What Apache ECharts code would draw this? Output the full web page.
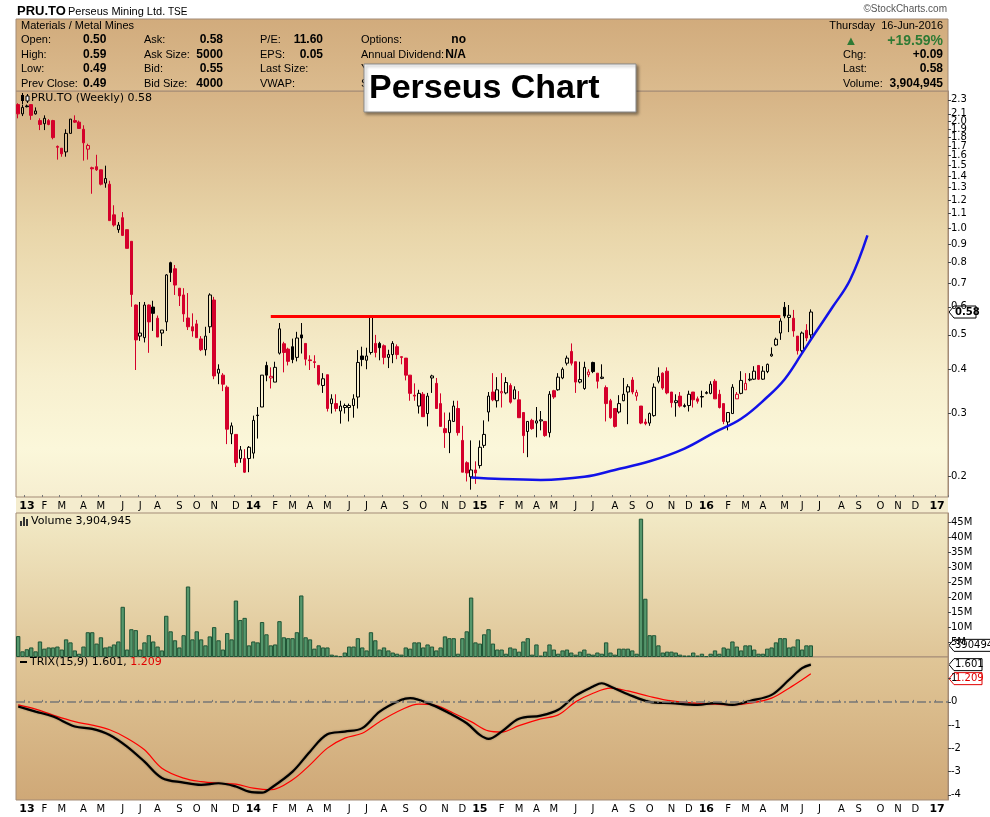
<!DOCTYPE html>
<html><head><meta charset="utf-8">
<script src="https://cdn.jsdelivr.net/npm/echarts@6/dist/echarts.min.js"></script>
<style>html,body{margin:0;padding:0;background:#fff;}#c{width:990px;height:817px;}</style>
</head><body><div id="c"></div>
<script>
// ---------------- DATA ----------------
const firstWeek = '2012-12-21';
const weekCount = 214;
const monthLetters = ['J','F','M','A','M','J','J','A','S','O','N','D'];
// weekly candles: [open, high, low, close]
const candles = [
[2.23,2.25,2.04,2.10],[2.10,2.23,2.07,2.19],[2.21,2.23,2.19,2.20],[2.23,2.23,2.02,2.08],[2.10,2.19,2.09,2.14],
[2.01,2.04,1.89,1.96],[1.97,2.08,1.89,2.04],[2.01,2.03,1.95,1.96],[2.01,2.02,1.78,1.80],[1.70,1.71,1.56,1.69],
[1.68,1.68,1.59,1.62],[1.64,1.90,1.59,1.85],[1.85,2.03,1.85,2.03],[2.01,2.08,1.98,1.99],[1.99,2.01,1.91,1.91],
[1.90,1.95,1.55,1.74],[1.67,1.73,1.56,1.71],[1.48,1.49,1.25,1.47],[1.49,1.61,1.45,1.46],[1.46,1.46,1.32,1.33],
[1.34,1.50,1.30,1.38],[1.33,1.36,1.05,1.05],[1.09,1.16,1.01,1.02],[0.99,1.04,0.97,1.02],[1.07,1.11,0.95,0.954],
[0.99,0.99,0.877,0.877],[0.918,0.918,0.60,0.65],[0.607,0.609,0.398,0.484],[0.496,0.619,0.481,0.506],[0.491,0.619,0.476,0.607],
[0.607,0.609,0.445,0.544],[0.599,0.624,0.513,0.575],[0.557,0.567,0.493,0.493],[0.506,0.516,0.465,0.516],[0.544,0.742,0.513,0.738],
[0.799,0.804,0.705,0.75],[0.768,0.787,0.648,0.691],[0.677,0.677,0.603,0.644],[0.648,0.677,0.544,0.573],[0.558,0.656,0.516,0.527],
[0.527,0.575,0.494,0.513],[0.537,0.551,0.491,0.491],[0.487,0.496,0.45,0.454],[0.454,0.527,0.437,0.496],[0.527,0.655,0.506,0.648],
[0.627,0.64,0.375,0.383],[0.39,0.413,0.363,0.40],[0.385,0.39,0.347,0.363],[0.356,0.36,0.246,0.271],[0.263,0.283,0.246,0.277],
[0.262,0.262,0.212,0.218],[0.224,0.243,0.218,0.237],[0.224,0.238,0.204,0.205],[0.224,0.243,0.205,0.241],[0.232,0.296,0.224,0.287],
[0.297,0.313,0.255,0.296],[0.313,0.385,0.313,0.385],[0.41,0.42,0.37,0.385],[0.378,0.405,0.353,0.382],[0.368,0.42,0.368,0.405],
[0.444,0.54,0.44,0.52],[0.472,0.478,0.392,0.446],[0.456,0.46,0.41,0.421],[0.463,0.488,0.416,0.426],[0.432,0.51,0.421,0.49],
[0.50,0.54,0.443,0.49],[0.473,0.473,0.41,0.427],[0.425,0.438,0.398,0.423],[0.42,0.438,0.403,0.418],[0.41,0.41,0.36,0.363],
[0.36,0.39,0.343,0.376],[0.386,0.386,0.304,0.31],[0.32,0.34,0.30,0.33],[0.32,0.34,0.304,0.31],[0.305,0.326,0.281,0.315],
[0.312,0.32,0.30,0.316],[0.312,0.32,0.285,0.316],[0.316,0.34,0.292,0.33],[0.334,0.453,0.31,0.418],[0.436,0.463,0.408,0.426],
[0.424,0.46,0.40,0.436],[0.446,0.562,0.44,0.56],[0.473,0.50,0.432,0.446],[0.473,0.478,0.424,0.46],[0.466,0.47,0.413,0.432],
[0.432,0.454,0.403,0.44],[0.44,0.48,0.416,0.473],[0.463,0.47,0.427,0.44],[0.434,0.434,0.413,0.432],[0.43,0.43,0.372,0.385],
[0.385,0.385,0.326,0.342],[0.338,0.365,0.326,0.336],[0.315,0.35,0.30,0.342],[0.34,0.345,0.294,0.294],[0.30,0.343,0.276,0.336],
[0.378,0.386,0.343,0.383],[0.365,0.378,0.31,0.31],[0.32,0.342,0.276,0.276],[0.272,0.302,0.24,0.265],[0.265,0.302,0.232,0.287],
[0.285,0.326,0.285,0.315],[0.31,0.326,0.26,0.265],[0.252,0.277,0.205,0.205],[0.218,0.22,0.193,0.204],[0.199,0.252,0.183,0.208],
[0.208,0.22,0.19,0.204],[0.214,0.252,0.21,0.241],[0.244,0.287,0.24,0.262],[0.303,0.345,0.285,0.336],[0.345,0.39,0.325,0.328],
[0.326,0.38,0.312,0.35],[0.343,0.39,0.312,0.346],[0.343,0.38,0.34,0.367],[0.36,0.365,0.32,0.323],[0.33,0.358,0.33,0.35],
[0.328,0.347,0.292,0.292],[0.302,0.302,0.232,0.26],[0.267,0.285,0.226,0.285],[0.287,0.29,0.27,0.272],[0.282,0.313,0.257,0.286],
[0.286,0.305,0.269,0.288],[0.285,0.285,0.258,0.26],[0.265,0.347,0.257,0.34],[0.348,0.35,0.33,0.334],[0.35,0.39,0.348,0.38],
[0.378,0.405,0.375,0.40],[0.416,0.437,0.41,0.43],[0.449,0.473,0.41,0.416],[0.42,0.42,0.343,0.368],[0.368,0.42,0.365,0.374],
[0.353,0.42,0.35,0.405],[0.386,0.40,0.38,0.393],[0.418,0.42,0.39,0.394],[0.39,0.39,0.353,0.37],[0.377,0.413,0.375,0.38],
[0.355,0.36,0.285,0.32],[0.326,0.33,0.29,0.292],[0.31,0.31,0.274,0.276],[0.303,0.338,0.30,0.32],[0.326,0.378,0.325,0.34],
[0.345,0.363,0.28,0.357],[0.373,0.38,0.34,0.345],[0.336,0.35,0.326,0.344],[0.315,0.315,0.28,0.282],[0.284,0.29,0.278,0.281],
[0.282,0.302,0.277,0.30],[0.296,0.365,0.294,0.356],[0.37,0.405,0.365,0.382],[0.39,0.392,0.35,0.354],[0.395,0.405,0.34,0.343],
[0.345,0.345,0.312,0.322],[0.322,0.34,0.294,0.326],[0.336,0.345,0.312,0.315],[0.314,0.32,0.312,0.316],[0.316,0.348,0.304,0.34],
[0.345,0.345,0.312,0.328],[0.33,0.335,0.32,0.325],[0.335,0.348,0.312,0.334],[0.342,0.347,0.34,0.344],[0.342,0.37,0.34,0.363],
[0.37,0.375,0.33,0.33],[0.34,0.35,0.31,0.312],[0.32,0.32,0.28,0.285],[0.284,0.302,0.269,0.302],[0.30,0.363,0.30,0.356],
[0.33,0.345,0.33,0.34],[0.342,0.395,0.34,0.372],[0.35,0.39,0.35,0.365],[0.373,0.39,0.37,0.375],[0.375,0.408,0.373,0.395],
[0.41,0.41,0.373,0.375],[0.375,0.408,0.373,0.395],[0.394,0.415,0.39,0.413],[0.436,0.461,0.434,0.441],[0.468,0.491,0.465,0.486],
[0.506,0.557,0.484,0.547],[0.598,0.619,0.557,0.565],[0.56,0.607,0.509,0.568],[0.557,0.588,0.494,0.513],[0.496,0.496,0.44,0.451],
[0.451,0.511,0.445,0.506],[0.515,0.536,0.48,0.49],[0.50,0.59,0.49,0.58]
];
// weekly volume, millions of shares
const volumeM = [
7.0,1.9,2.6,3.2,1.9,5.2,2.8,3.2,3.2,3.5, 2.5,5.9,4.9,2.2,1.1,3.5,8.3,8.3,4.5,6.6,
3.2,3.5,4.2,5.2,16.8,2.5,9.3,9.0,2.5,4.9, 7.3,5.2,3.5,2.2,13.8,8.6,5.6,3.2,7.3,23.6,
5.9,8.6,5.9,3.9,6.9,10.0,5.6,2.5,8.0,5.9, 18.9,12.4,13.1,3.9,5.2,4.9,11.7,7.6,3.9,4.2,
12.0,6.6,6.3,6.3,8.3,20.6,6.6,5.9,2.8,3.9, 3.2,3.2,0.8,0.5,0.3,1.5,3.5,3.5,6.3,
3.2,2.2,8.3,5.6,2.5,3.2,2.2,1.5,1.1,0.8, 3.2,2.8,4.9,4.9,3.2,4.2,3.5,2.2,3.2,6.9,
6.3,6.3,1.1,6.3,8.6,19.9,4.9,4.5,7.6,9.3, 4.5,2.5,2.5,1.1,3.2,2.8,1.8,5.2,6.3,0.8,
4.2,0.5,1.8,4.2,2.5,1.1,2.2,2.5,1.5,0.8, 1.8,2.5,1.1,0.8,1.5,1.1,4.9,1.5,0.8,2.8,
2.8,2.8,2.2,1.1,46.3,19.5,7.3,7.3,3.9,1.5, 1.8,1.8,1.5,0.8,0.5,0.5,1.5,0.5,1.1,0.3,
1.1,2.2,1.1,3.2,2.8,5.2,3.5,2.2,3.9,3.9, 2.5,1.1,1.1,2.8,3.2,4.9,6.3,6.3,3.2,3.5,
5.9,2.5,3.9,3.904945
];
// TRIX(15,9) read at sampled weeks: [weekIndex, value]
const trixLine = [[0,-0.2],[4,-0.42],[8,-0.63],[13,-1.06],[17,-1.16],[21,-1.42],[25,-1.92],[29,-2.57],[33,-3.27],[38,-3.47],[42,-3.57],[46,-3.5],[50,-3.64],[53,-3.86],[56,-3.9],[58,-3.71],[63,-3.0],[67,-2.14],[71,-1.39],[75,-1.28],[79,-1.13],[83,-0.42],[88,0.09],[90,0.16],[95,-0.13],[99,-0.49],[103,-0.92],[106,-1.42],[108,-1.59],[111,-1.28],[115,-0.73],[120,-0.59],[124,-0.34],[128,0.27],[132,0.66],[134,0.8],[136,0.66],[140,0.33],[145,0],[150,-0.06],[156,-0.13],[160,-0.05],[164,-0.13],[168,0.04],[173,0.3],[177,0.95],[180,1.45],[182,1.601]];
const trixSignal = [[0,-0.13],[4,-0.31],[8,-0.57],[13,-0.85],[17,-1.0],[21,-1.2],[25,-1.56],[29,-2.06],[33,-2.85],[38,-3.28],[42,-3.43],[46,-3.5],[50,-3.54],[54,-3.71],[58,-3.78],[63,-3.35],[67,-2.71],[71,-1.99],[75,-1.56],[79,-1.35],[83,-0.85],[88,-0.34],[92,-0.1],[96,-0.16],[100,-0.49],[104,-0.85],[108,-1.25],[111,-1.3],[115,-1.02],[120,-0.73],[124,-0.56],[128,0],[132,0.37],[136,0.59],[140,0.47],[145,0.23],[150,0.04],[156,-0.06],[160,-0.1],[164,-0.13],[168,-0.06],[173,0.16],[177,0.59],[180,0.95],[182,1.209]];
// annotations [weekIndex, price]
const resistance = [[57.8,0.563],[175.4,0.563]];
const blueCurve = [[104.1,0.198],[110.6,0.196],[119.8,0.195],[129.7,0.199],[137.4,0.208],[145.1,0.22],[152.7,0.239],[160.4,0.266],[165.7,0.29],[171.9,0.334],[175.7,0.375],[180.3,0.444],[183.3,0.506],[187.2,0.599],[191,0.714],[195.1,0.954]];
// axis ticks
const priceTicks = [0.2,0.3,0.4,0.5,0.6,0.7,0.8,0.9,1.0,1.1,1.2,1.3,1.4,1.5,1.6,1.7,1.8,1.9,2.0,2.1,2.2,2.3];
const volumeTicks = [5,10,15,20,25,30,35,40,45];
const trixTicks = [-4,-3,-2,-1,0,1];
const lastPrice = 0.58, lastVolumeM = 3.904945, lastTrix = 1.601, lastSignal = 1.209;

// ---------------- BUILD ----------------
const weeks = [];
{ const t0 = Date.parse(firstWeek + 'T00:00:00Z');
  for (let i = 0; i < weekCount; i++) weeks.push(new Date(t0 + i * 7 * 86400000).toISOString().slice(0, 10)); }
const isMonthStart = (idx, val) => +String(val).slice(8, 10) <= 7;
const monthLabel = (val) => { const m = +val.slice(5, 7); return m === 1 ? '{y|' + val.slice(2, 4) + '}' : monthLetters[m - 1]; };

const RED = '#d4002b', BLK = '#000000', CLEAR = 'rgba(0,0,0,0)';
const candleData = candles.map((c, i) => {
  const [o, h, l, cl] = c;
  const prev = i > 0 ? candles[i - 1][3] : Infinity;
  const col = cl < prev ? RED : BLK;
  const fill = cl > o ? CLEAR : col;
  return { value: [o, cl, l, h], itemStyle: { color: fill, color0: fill, borderColor: col, borderColor0: col, borderColorDoji: col, borderWidth: 1 } };
});

const AXF = 'DejaVu Sans';
const lg = (stops) => ({ type: 'linear', x: 0, y: 0, x2: 0, y2: 1, colorStops: stops.map((c) => ({ offset: c[0], color: c[1] })) });
const axisLineCol = '#a38b76';

function xAx(grid, showLabel) {
  return {
    type: 'category', gridIndex: grid, data: weeks, boundaryGap: true,
    axisLine: { show: false },
    axisTick: { show: showLabel, interval: isMonthStart, length: 2, inside: true, lineStyle: { color: '#777' } },
    axisLabel: { show: showLabel, interval: isMonthStart, formatter: monthLabel, fontFamily: AXF, fontSize: 10, color: '#000', margin: 4,
      rich: { y: { fontFamily: AXF, fontSize: 11, fontWeight: 'bold', color: '#000' } } },
    splitLine: { show: false }
  };
}
function yAx(grid, extra) {
  return Object.assign({
    gridIndex: grid, position: 'right',
    axisLine: { show: true, lineStyle: { color: axisLineCol } },
    splitLine: { show: false }
  }, extra);
}
const axLabel = (vals, fmt) => ({ customValues: vals, formatter: fmt, fontFamily: AXF, fontSize: 10, color: '#000', margin: 3,
  showMinLabel: true, showMaxLabel: true, hideOverlap: false });
const axTick = (vals) => ({ show: true, customValues: vals, length: 3, lineStyle: { color: '#444' } });

const option = {
  animation: false,
  backgroundColor: '#ffffff',
  grid: [
    { left: 16, width: 932, top: 91, height: 406, show: true, borderColor: axisLineCol, borderWidth: 1,
      backgroundColor: lg([[0, '#d6b385'], [0.35, '#e9d6aa'], [0.7, '#f7efce'], [0.88, '#fbf7da'], [1, '#f6eed0']]) },
    { left: 16, width: 932, top: 513, height: 144, show: true, borderColor: axisLineCol, borderWidth: 1,
      backgroundColor: lg([[0, '#f2eac6'], [1, '#dfc597']]) },
    { left: 16, width: 932, top: 657, height: 143, show: true, borderColor: axisLineCol, borderWidth: 1,
      backgroundColor: lg([[0, '#e0c697'], [1, '#cfa877']]) }
  ],
  xAxis: [xAx(0, true), xAx(1, false), xAx(2, true)],
  yAxis: [
    yAx(0, { type: 'log', logBase: 10, min: 0.1745, max: 2.436, axisLabel: axLabel(priceTicks, v => (+v).toFixed(1)), axisTick: axTick(priceTicks) }),
    yAx(1, { type: 'value', min: 0, max: 48.2, axisLabel: axLabel(volumeTicks, v => v + 'M'), axisTick: axTick(volumeTicks) }),
    yAx(2, { type: 'value', min: -4.22, max: 1.93, axisLabel: axLabel(trixTicks, v => String(v)), axisTick: axTick(trixTicks) })
  ],
  series: [
    { type: 'candlestick', name: 'PRU.TO', xAxisIndex: 0, yAxisIndex: 0, data: candleData, barWidth: 3, z: 3 },
    { type: 'line', name: 'Resistance', xAxisIndex: 0, yAxisIndex: 0, data: resistance, symbol: 'none',
      lineStyle: { color: '#ff0000', width: 3 }, z: 4 },
    { type: 'line', name: 'Curve', xAxisIndex: 0, yAxisIndex: 0, data: blueCurve, symbol: 'none', smooth: 0.4,
      lineStyle: { color: '#1212e8', width: 2.5 }, z: 4 },
    { type: 'bar', name: 'Volume', xAxisIndex: 1, yAxisIndex: 1, data: volumeM, barCategoryGap: '0%',
      itemStyle: { color: '#55976c', borderColor: '#1f5536', borderWidth: 1 } },
    { type: 'line', name: 'Signal', xAxisIndex: 2, yAxisIndex: 2, data: trixSignal, symbol: 'none', smooth: 0.35,
      lineStyle: { color: '#ff0000', width: 1.2 }, z: 3,
      markLine: { silent: true, symbol: 'none', label: { show: false }, data: [{ yAxis: 0 }],
        lineStyle: { color: '#777', width: 1.5, type: [9, 3, 2, 3] } } },
    { type: 'line', name: 'TRIX', xAxisIndex: 2, yAxisIndex: 2, data: trixLine, symbol: 'none', smooth: 0.35,
      lineStyle: { color: '#000', width: 2.2, shadowColor: 'rgba(0,0,0,0.35)', shadowBlur: 2 }, z: 4 }
  ]
};

const chart = echarts.init(document.getElementById('c'), null, { renderer: 'canvas', width: 990, height: 817 });
chart.setOption(option);

// ---------------- TEXT / DECORATION ----------------
const HF = '"Liberation Sans", Arial, sans-serif';
function T(x, y, text, font, fill, align, z) {
  return { type: 'text', x, y, z: z || 10, silent: true,
    style: { text, font, fill: fill || '#000', textAlign: align || 'left', textVerticalAlign: 'middle', align: align || 'left', verticalAlign: 'middle' } };
}
const reg = '11px ' + HF, bold = 'bold 12px ' + HF;
const G = [];
G.push({ type: 'rect', z: -1, silent: true, shape: { x: 16, y: 497, width: 932, height: 16 }, style: { fill: '#f4ecce' } });
G.push(T(17, 11, 'PRU.TO', 'bold 13px ' + HF));
G.push(T(68, 12, 'Perseus Mining Ltd.', '11px ' + HF));
G.push(T(168, 12, 'TSE', '10px ' + HF));
G.push(T(947, 9, '©StockCharts.com', '10px ' + HF, '#555', 'right'));
G.push({ type: 'rect', z: 1, silent: true, shape: { x: 16, y: 19, width: 932, height: 72 },
  style: { fill: lg([[0, '#d1ab7c'], [1, '#dbbb8e']]), stroke: '#a38b76', lineWidth: 1 } });
const rows = [40, 55, 69, 84];
G.push(T(21, 26, 'Materials / Metal Mines', reg));
[['Open:', '0.50'], ['High:', '0.59'], ['Low:', '0.49'], ['Prev Close:', '0.49']].forEach((r, i) => { G.push(T(21, rows[i], r[0], reg)); G.push(T(83, rows[i], r[1], bold)); });
[['Ask:', '0.58'], ['Ask Size:', '5000'], ['Bid:', '0.55'], ['Bid Size:', '4000']].forEach((r, i) => { G.push(T(144, rows[i], r[0], reg)); G.push(T(223, rows[i], r[1], bold, '#000', 'right')); });
[['P/E:', '11.60'], ['EPS:', '0.05'], ['Last Size:', ''], ['VWAP:', '']].forEach((r, i) => { G.push(T(260, rows[i], r[0], reg)); G.push(T(323, rows[i], r[1], bold, '#000', 'right')); });
[['Options:', 'no'], ['Annual Dividend:', 'N/A'], ['Yield:', ''], ['SCTR:', '']].forEach((r, i) => { G.push(T(361, rows[i], r[0], reg)); G.push(T(466, rows[i], r[1], bold, '#000', 'right')); });
G.push(T(943, 26, 'Thursday  16-Jun-2016', reg, '#000', 'right'));
G.push(T(851, 41, '▲', '13px ' + HF, '#2e7a34', 'center'));
G.push(T(943, 41, '+19.59%', 'bold 14px ' + HF, '#2e7a34', 'right'));
[['Chg:', '+0.09'], ['Last:', '0.58'], ['Volume:', '3,904,945']].forEach((r, i) => { G.push(T(843, rows[i + 1], r[0], reg)); G.push(T(943, rows[i + 1], r[1], bold, '#000', 'right')); });
// title box
G.push({ type: 'rect', z: 20, silent: true, shape: { x: 364, y: 64, width: 272, height: 48 },
  style: { fill: '#ffffff', stroke: '#8a8a8a', lineWidth: 1, shadowBlur: 3, shadowOffsetX: 2, shadowOffsetY: 2, shadowColor: 'rgba(0,0,0,0.4)' } });
G.push(T(369, 89, 'Perseus Chart', 'bold 34px ' + HF, '#000', 'left', 21));
// panel legends
G.push({ type: 'group', z: 10, silent: true, children: [
  { type: 'line', shape: { x1: 22.5, y1: 93, x2: 22.5, y2: 104 }, style: { stroke: '#000', lineWidth: 1 } },
  { type: 'rect', shape: { x: 21, y: 95, width: 3, height: 6 }, style: { fill: '#000' } },
  { type: 'line', shape: { x1: 27.5, y1: 94, x2: 27.5, y2: 103 }, style: { stroke: '#000', lineWidth: 1 } },
  { type: 'rect', shape: { x: 26, y: 96, width: 3, height: 5 }, style: { fill: '#fff', stroke: '#000', lineWidth: 1 } }
] });
G.push(T(31, 98, 'PRU.TO (Weekly) 0.58', '11px "' + AXF + '"'));
G.push({ type: 'group', z: 10, silent: true, children: [
  { type: 'rect', shape: { x: 20, y: 521, width: 2, height: 5 }, style: { fill: '#333' } },
  { type: 'rect', shape: { x: 23, y: 517, width: 2, height: 9 }, style: { fill: '#333' } },
  { type: 'rect', shape: { x: 26, y: 519, width: 2, height: 7 }, style: { fill: '#333' } }
] });
G.push(T(31, 521, 'Volume 3,904,945', '11px "' + AXF + '"'));
G.push({ type: 'rect', z: 10, silent: true, shape: { x: 20, y: 661, width: 7, height: 2 }, style: { fill: '#000' } });
G.push({ type: 'text', x: 30, y: 662, z: 10, silent: true, style: { text: '{a|TRIX(15,9) 1.601, }{b|1.209}', textVerticalAlign: 'middle', verticalAlign: 'middle',
  rich: { a: { font: '11px "' + AXF + '"', fill: '#000', color: '#000' }, b: { font: '11px "' + AXF + '"', fill: '#e00000', color: '#e00000' } } } });

// value markers on the right axes (positions from the library's scales)
function marker(y, text, stroke, w, font) {
  const x0 = 948;
  return { type: 'group', z: 30, silent: true, children: [
    { type: 'polygon', shape: { points: [[x0 + 1, y], [x0 + 6, y - 6], [x0 + 6 + w, y - 6], [x0 + 6 + w, y + 6], [x0 + 6, y + 6]] },
      style: { fill: '#ffffff', stroke, lineWidth: 1 } },
    { type: 'text', x: x0 + 7, y: y, style: { text, font: font || ('bold 10px "' + AXF + '"'), fill: stroke, textVerticalAlign: 'middle', verticalAlign: 'middle' } }
  ] };
}
const yPrice = chart.convertToPixel({ yAxisIndex: 0 }, lastPrice);
const yVol = chart.convertToPixel({ yAxisIndex: 1 }, lastVolumeM);
const yTrix = chart.convertToPixel({ yAxisIndex: 2 }, lastTrix);
let ySig = chart.convertToPixel({ yAxisIndex: 2 }, lastSignal);
if (ySig - yTrix < 14) ySig = yTrix + 14;
G.push(marker(yPrice, lastPrice.toFixed(2), '#000', 22));
G.push(marker(yVol, String(Math.round(lastVolumeM * 1e6)), '#000', 40, '10px "' + AXF + '"'));
G.push(marker(yTrix, lastTrix.toFixed(3), '#000', 28, '10px "' + AXF + '"'));
G.push(marker(ySig, lastSignal.toFixed(3), '#e00000', 28, '10px "' + AXF + '"'));
chart.setOption({ graphic: G });
</script></body></html>
